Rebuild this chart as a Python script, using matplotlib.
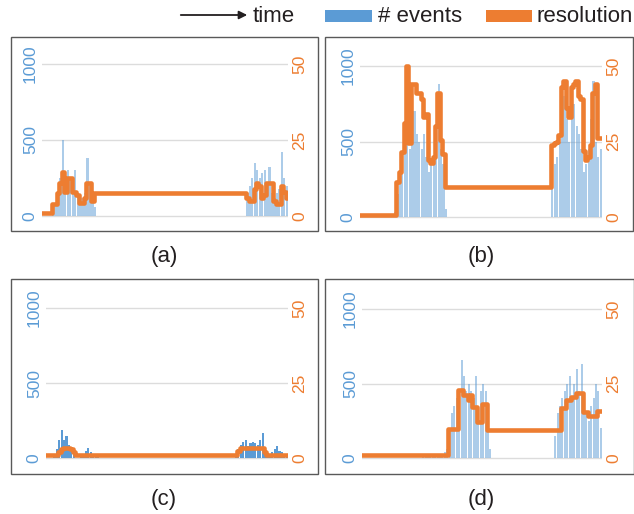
import numpy as np
import matplotlib
matplotlib.use("Agg")
import matplotlib.pyplot as plt
from matplotlib.patches import Rectangle, FancyArrowPatch

plt.rcParams["font.family"] = ["Liberation Sans", "DejaVu Sans"]

BLUE = "#5b9bd5"
ORANGE = "#ed7d31"
TEXT = "#231f20"

# ---- data: one value per time step (100 steps per panel) ----
EVENT_TICKS = [0, 500, 1000]
RES_TICKS = [0, 25, 50]

EVENTS_A = ([0] * 4
            + [40, 80, 150, 250, 500, 200, 300, 250, 180, 300, 150, 100, 120, 150, 380, 200, 120, 60]
            + [0] * 61
            + [150, 200, 250, 350, 300, 250, 280, 300, 200, 320, 150, 120, 150, 180, 420, 250, 200])
RES_A = ([1] * 4 + [4] * 2 + [7.5, 11, 14.5, 8] + [12.5] * 2 + [8] * 2 + [7] + [4.3] * 2
         + [6] + [11] * 2 + [5]
         + [7.5] * 62
         + [6, 5, 5, 9, 11, 10, 6, 7, 11, 11, 11, 5, 4, 4, 10, 8, 6])

EVENTS_B = ([0] * 14
            + [30, 150, 300, 350, 500, 600, 450, 500, 700, 550, 500, 450, 550, 400, 300, 350, 400,
               600, 880, 450, 350, 50]
            + [0] * 43
            + [200, 350, 400, 500, 600, 800, 650, 500, 700, 750, 600, 550, 450, 300, 350, 450, 650,
               900, 500, 400, 450])
RES_B = ([0.7] * 15
         + [11.6, 15, 21.5, 31, 50, 24.5, 44, 44, 41, 41, 39, 33, 34, 19, 18, 20, 30, 41, 25.5, 21, 10]
         + [10] * 43
         + [24, 24.5, 25, 27, 43, 45, 36, 33, 43, 44, 45, 40, 39, 22, 19, 20, 24, 41, 44, 26, 26])

EVENTS_C = ([0] * 3
            + [30, 60, 120, 190, 120, 150, 90, 60, 30]
            + [0] * 2
            + [20, 30, 50, 70, 40, 30, 20, 10]
            + [0] * 56
            + [20, 60, 90, 110, 120, 80, 100, 110, 100, 90, 120, 170, 60, 20, 20, 40, 60, 80, 50,
               40, 30, 20])
RES_C = ([1] * 5 + [2, 3, 3.5, 3.5, 3.5, 3, 2] + [1] * 67
         + [2.2] + [3.3] * 10 + [2] + [1] * 9)

EVENTS_D = ([0] * 25
            + [10, 15, 10, 20, 15, 25, 20, 20, 30, 40, 60, 200, 300, 350, 400, 450, 660, 550, 450,
               500, 450, 400, 550, 350, 450, 500, 450, 250, 60]
            + [0] * 26
            + [150, 300, 350, 400, 450, 500, 550, 400, 500, 600, 450, 630, 400, 300, 250, 350, 400,
               500, 450, 200])
RES_D = ([1] * 36 + [9.7] * 4 + [22.8] * 2 + [21] * 2 + [19.5, 21] + [17] * 2 + [12] * 2
         + [18] * 2 + [9.4] * 31
         + [16.8, 16.8, 19.5, 19.5, 20.5, 20.5, 21.8, 21.8, 21.8, 15.5, 15.5, 14, 14, 14, 14,
            15.8, 15.8])

PANEL_LABELS = ["(a)", "(b)", "(c)", "(d)"]
EVENTS = [EVENTS_A, EVENTS_B, EVENTS_C, EVENTS_D]
RES = [RES_A, RES_B, RES_C, RES_D]

# ---- layout in pixels ----
W, H = 634, 514
# frame box, inner axes x-range, y pixel of 0 and of 1000, label baseline
LAYOUT = [
    dict(box=(11, 37, 318, 231), ax_x=(42, 288), y0=216, y1000=64, lab=(164, 262), bar_alpha=0.5),
    dict(box=(325, 37, 633, 231), ax_x=(360, 602), y0=217, y1000=66, lab=(481, 262), bar_alpha=0.5),
    dict(box=(11, 279, 318, 474), ax_x=(46, 288), y0=458, y1000=308, lab=(164, 505), bar_alpha=1.0),
    dict(box=(325, 279, 634, 474), ax_x=(362, 602), y0=458, y1000=309, lab=(481, 505), bar_alpha=0.5),
]


def fx(px):
    return px / W


def fy(py):
    return 1 - py / H


fig = plt.figure(figsize=(W / 100, H / 100), dpi=100)

for lab, ev, res, lay in zip(PANEL_LABELS, EVENTS, RES, LAYOUT):
    bx0, by0, bx1, by1 = lay["box"]
    fig.add_artist(Rectangle((fx(bx0), fy(by1)), (bx1 - bx0) / W, (by1 - by0) / H,
                             transform=fig.transFigure, fill=False, ec="#595959", lw=1.0))

    ax0, ax1 = lay["ax_x"]
    y0, y1000 = lay["y0"], lay["y1000"]
    top_px, bot_px = y1000 - 5, y0 + 6
    ax = fig.add_axes([fx(ax0), fy(bot_px), (ax1 - ax0) / W, (bot_px - top_px) / H])
    scale = (y0 - y1000) / 1000.0
    ylo, yhi = -6 / scale, 1000 + 5 / scale

    t = np.arange(len(ev))
    ax.bar(t, ev, width=0.9, color=BLUE, alpha=lay["bar_alpha"], lw=0)
    ax.set_xlim(-0.5, len(ev) - 0.5)
    ax.set_ylim(ylo, yhi)
    ax.set_yticks(EVENT_TICKS)
    ax.set_xticks([])
    ax.grid(axis="y", color="#dcdcdc", lw=1.0)
    ax.set_axisbelow(True)
    ax.tick_params(axis="y", length=0, pad=3, labelsize=12.5, labelcolor=BLUE, labelrotation=90)
    for s in ax.spines.values():
        s.set_visible(False)

    ax2 = ax.twinx()
    ax2.plot(t, res, drawstyle="steps-mid", color=ORANGE, lw=3.3, solid_joinstyle="round")
    ax2.set_ylim(ylo / 20, yhi / 20)
    ax2.set_yticks(RES_TICKS)
    ax2.tick_params(axis="y", length=0, pad=3, labelsize=12.5, labelcolor=ORANGE, labelrotation=90)
    for s in ax2.spines.values():
        s.set_visible(False)
    for tl in ax.get_yticklabels() + ax2.get_yticklabels():
        tl.set_va("center")

    fig.text(fx(lay["lab"][0]), fy(lay["lab"][1]), lab, ha="center", va="baseline",
             fontsize=16, color=TEXT)

# ---- legend row ----
fig.add_artist(FancyArrowPatch((fx(178), fy(15)), (fx(250), fy(15)), transform=fig.transFigure,
                               arrowstyle="-|>", mutation_scale=12, lw=1.3, color=TEXT))
fig.text(fx(253), fy(22.5), "time", ha="left", va="baseline", fontsize=16, color=TEXT)
fig.add_artist(Rectangle((fx(325), fy(22)), 47 / W, 12 / H, transform=fig.transFigure,
                         color=BLUE, lw=0))
fig.text(fx(378), fy(22.5), "# events", ha="left", va="baseline", fontsize=16, color=TEXT)
fig.add_artist(Rectangle((fx(486), fy(22)), 46 / W, 12 / H, transform=fig.transFigure,
                         color=ORANGE, lw=0))
fig.text(fx(537), fy(22.5), "resolution", ha="left", va="baseline", fontsize=16, color=TEXT)

fig.savefig("out.png", dpi=100)
